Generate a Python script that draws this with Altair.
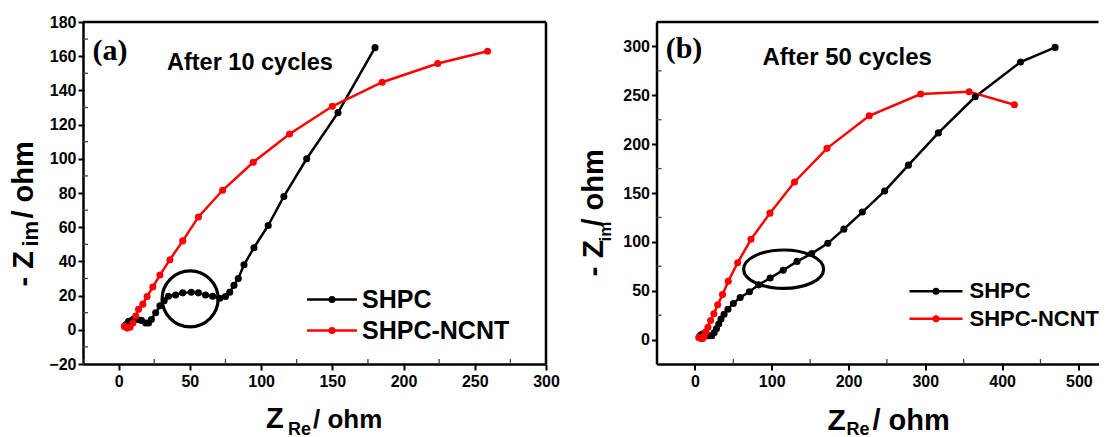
import altair as alt
import pandas as pd

# ---------------- data ----------------
series_names = ["SHPC", "SHPC-NCNT"]
series_colors = ["#000000", "#ff0000"]

# Panel (a): After 10 cycles
a_shpc_x = [5, 7, 10, 13, 16, 19, 21, 23, 26, 29, 32, 35, 40, 45, 51, 56, 61, 66, 71, 75, 78, 81, 84, 88, 95, 105, 116, 132, 154, 180]
a_shpc_y = [3, 5, 6, 6, 5.5, 4, 4, 6, 10, 14, 17, 19.6, 20.4, 21.6, 22, 21.6, 20.4, 19.6, 18.5, 19.5, 22, 26, 30, 38, 48, 61, 78, 100, 127, 165]
a_ncnt_x = [4, 6, 8, 10, 12, 14, 17, 20, 24, 29, 36, 45, 56, 73, 94.5, 120, 150, 185, 224, 259]
a_ncnt_y = [2, 1, 1.5, 4, 8, 12, 15, 19.5, 25, 32, 41, 52, 66, 81.6, 98, 114.5, 130.7, 144.8, 155.7, 162.9]

# Panel (b): After 50 cycles
b_shpc_x = [6, 8, 11, 14, 18, 22, 25, 28, 31, 34, 38, 43, 50, 59, 71, 83, 98, 115, 133, 152, 173, 194, 218, 247, 278, 317, 365, 424, 469]
b_shpc_y = [3, 5, 6, 5, 4, 4, 7, 11, 16, 21, 26, 31, 37, 43, 49, 56, 63, 71, 80, 88, 98.5, 113, 130.5, 152, 178.5, 211.5, 248.5, 284, 299]
b_ncnt_x = [5, 8, 10, 12, 14, 17, 20.5, 24.7, 29.7, 36, 43.4, 55.7, 73, 97.7, 129.7, 172, 227, 294, 357, 416]
b_ncnt_y = [2, 1, 1, 3, 7.6, 12.7, 19.6, 26.4, 35.7, 46, 59.7, 78.6, 102.6, 129.4, 161.3, 195.7, 229, 251.3, 253.7, 240.3]

a_x_ticks = [0, 50, 100, 150, 200, 250, 300]
a_y_ticks = [-20, 0, 20, 40, 60, 80, 100, 120, 140, 160, 180]
b_x_ticks = [0, 100, 200, 300, 400, 500]
b_y_ticks = [0, 50, 100, 150, 200, 250, 300]

a_x_minor = [-25, 25, 75, 125, 175, 225, 275]
a_y_minor = [-10, 10, 30, 50, 70, 90, 110, 130, 150, 170]
b_x_minor = [50, 150, 250, 350, 450]
b_y_minor = [25, 75, 125, 175, 225, 275]

a_mark_xy = [50.2, 18.1]   # circled region, panel a
b_mark_xy = [115.5, 72.0]  # circled region, panel b

FONT = "Liberation Sans"
SERIF = "Liberation Serif"


def series_df(xs1, ys1, xs2, ys2):
    rows = []
    for name, xs, ys in [(series_names[0], xs1, ys1), (series_names[1], xs2, ys2)]:
        for i, (x, y) in enumerate(zip(xs, ys)):
            rows.append({"x": x, "y": y, "series": name, "i": i})
    return pd.DataFrame(rows)


def txt(text, x, y, size, font=FONT, angle=0, align="left", baseline="alphabetic", weight="bold"):
    kw = dict(font=font, fontSize=size, fontWeight=weight, align=align, baseline=baseline, color="black")
    if angle:
        kw["angle"] = angle
    return alt.Chart(pd.DataFrame({"t": [text]})).mark_text(**kw).encode(
        x=alt.value(x), y=alt.value(y), text="t:N"
    )


def panel(df, xdom, ydom, xt, yt, xminor, yminor, w, h, mark_xy, mark_shape, mark_size, label, cycles,
          label_pos, cycles_pos, leg, ytitle, xtitle, right_border):
    color = alt.Color("series:N", scale=alt.Scale(domain=series_names, range=series_colors), legend=None)
    xax = alt.Axis(values=xt, title=None, labelFlush=False, labelOverlap=False, tickSize=6, labelPadding=3)
    yax = alt.Axis(values=yt, title=None, labelFlush=False, labelOverlap=False, tickSize=5, labelPadding=2)
    xs = alt.Scale(domain=xdom, nice=False, zero=False)
    ys = alt.Scale(domain=ydom, nice=False, zero=False)
    xenc = alt.X("x:Q", scale=xs, axis=xax)
    yenc = alt.Y("y:Q", scale=ys, axis=yax)
    base = alt.Chart(df)
    lines = base.mark_line(strokeWidth=2.5).encode(x=xenc, y=yenc, color=color, order="i:Q", detail="series:N")
    pts = base.mark_circle(size=50, opacity=1).encode(x=xenc, y=yenc, color=color)
    ring = alt.Chart(pd.DataFrame({"x": [mark_xy[0]], "y": [mark_xy[1]]})).mark_point(
        shape=mark_shape, size=mark_size, filled=False, strokeWidth=3.2, color="black", opacity=1
    ).encode(x=xenc, y=yenc)

    # small inward minor ticks along bottom and left edges
    mx = alt.Chart(pd.DataFrame({"x": xminor})).mark_tick(
        orient="vertical", size=5, thickness=1.3, color="#444444", opacity=1
    ).encode(x=xenc, y=alt.value(h - 2.5))
    my = alt.Chart(pd.DataFrame({"y": yminor})).mark_tick(
        orient="horizontal", size=5, thickness=1.3, color="#444444", opacity=1
    ).encode(y=yenc, x=alt.value(2.5))

    layers = [mx, my, lines, pts, ring]
    # frame (top, optional right)
    layers.append(alt.Chart(pd.DataFrame({"a": [0]})).mark_rule(color="black", strokeWidth=2.5).encode(
        x=alt.value(0), x2=alt.value(w), y=alt.value(0)))
    if right_border:
        layers.append(alt.Chart(pd.DataFrame({"a": [0]})).mark_rule(color="black", strokeWidth=2.5).encode(
            x=alt.value(w), y=alt.value(0), y2=alt.value(h)))

    # panel texts
    layers.append(txt(label, label_pos[0], label_pos[1], 30, font=SERIF, align="center", baseline="middle"))
    layers.append(txt(cycles, cycles_pos[0], cycles_pos[1], cycles_pos[2], baseline="middle"))

    # manual legend
    lx0, lx1, ly0, ly1, ltx, lsize = leg
    for name, col, ly in [(series_names[0], series_colors[0], ly0), (series_names[1], series_colors[1], ly1)]:
        layers.append(alt.Chart(pd.DataFrame({"a": [0]})).mark_rule(color=col, strokeWidth=2.5).encode(
            x=alt.value(lx0), x2=alt.value(lx1), y=alt.value(ly)))
        layers.append(alt.Chart(pd.DataFrame({"a": [0]})).mark_circle(color=col, size=50, opacity=1).encode(
            x=alt.value((lx0 + lx1) / 2), y=alt.value(ly)))
        layers.append(txt(name, ltx, ly, lsize, baseline="middle"))

    # axis titles with subscripts
    for (t, x, y, s, ang) in ytitle + xtitle:
        layers.append(txt(t, x, y, s, angle=ang))

    return alt.layer(*layers).properties(width=w, height=h)


WA, HA = 463, 342
WB, HB = 442, 342

panel_a = panel(
    series_df(a_shpc_x, a_shpc_y, a_ncnt_x, a_ncnt_y),
    [-25, 300], [-20, 180], a_x_ticks, a_y_ticks, a_x_minor, a_y_minor, WA, HA,
    a_mark_xy, "circle", 3136, "(a)", "After 10 cycles",
    (27, 29), (84, 40.5, 23.5),
    (224, 274, 277.5, 308.5, 279, 25),
    [("- Z", -50, 264.5, 29, 270), ("im", -45, 224.5, 22, 270), ("/ ohm", -50, 196.5, 29, 270)],
    [("Z", 183, 405.5, 29, 0), ("Re", 205, 412.5, 18, 0), ("/ ohm", 230, 405.5, 26, 0)],
    True,
)

ellipse = "M-1,0A1,0.48,0,1,1,1,0A1,0.48,0,1,1,-1,0Z"
panel_b = panel(
    series_df(b_shpc_x, b_shpc_y, b_ncnt_x, b_ncnt_y),
    [-50, 525.5], [-25, 325], b_x_ticks, b_y_ticks, b_x_minor, b_y_minor, WB, HB,
    b_mark_xy, ellipse, 6400, "(b)", "After 50 cycles",
    (27.5, 27), (106, 35.5, 24),
    (253, 306, 269.2, 296.8, 313, 22),
    [("- Z", -53.5, 254.5, 30, 270), ("im", -45.5, 219.5, 17, 270), ("/ ohm", -53.5, 204.5, 29, 270)],
    [("Z", 171, 407.5, 30, 0), ("Re", 190, 412.5, 18, 0), ("/ ohm", 216, 407.5, 29, 0)],
    False,
)

chart = alt.hconcat(panel_a, panel_b, spacing=18.5).properties(
    padding={"left": 2, "top": 6, "right": 0, "bottom": 0},
    background="white",
).configure_view(stroke=None).configure_axis(
    domainColor="black", domainWidth=2.5, tickColor="black", tickWidth=2,
    labelFont=FONT, labelFontWeight="bold", labelFontSize=16, labelColor="black", grid=False,
    labelOverlap=False,
)

chart.save("out.html", embed_options={"renderer": "svg", "actions": False})
